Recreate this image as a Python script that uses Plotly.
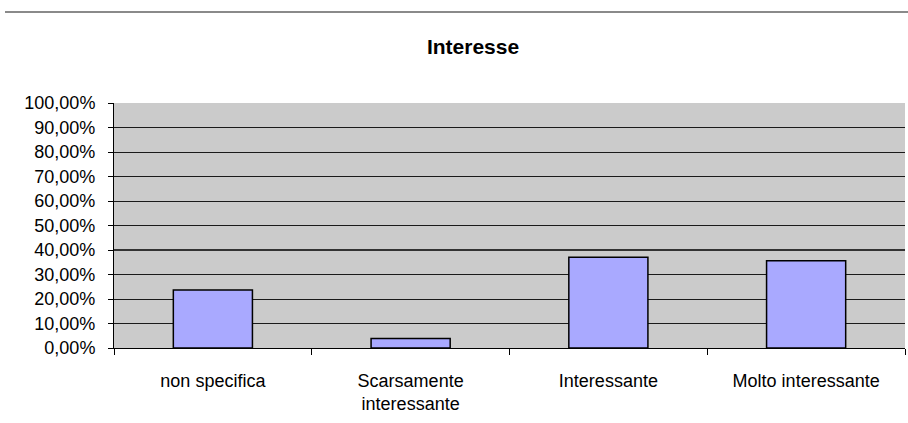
import plotly.graph_objects as go

categories = ["non specifica", "Scarsamente<br>interessante", "Interessante", "Molto interessante"]
values = [0.237, 0.039, 0.370, 0.356]
y_ticks = [i / 10 for i in range(11)]

fig = go.Figure()
fig.add_trace(go.Bar(
    x=categories, y=values,
    marker=dict(color="#a9a9ff", line=dict(color="#000000", width=1.5)),
    width=0.4,
))

fig.update_layout(
    width=908, height=423,
    margin=dict(l=114, r=3, t=103, b=75),
    paper_bgcolor="white",
    plot_bgcolor="#cbcbcb",
    separators=",.",
    showlegend=False,
    font=dict(family="Liberation Sans, Arial", size=18, color="#000000"),
    title=dict(text="<b>Interesse</b>", x=473 / 908, xanchor="center", y=1 - 47 / 423, yanchor="middle",
               font=dict(size=21, family="Liberation Sans, Arial", color="#000")),
)
fig.update_yaxes(
    range=[0, 1], tickvals=y_ticks, tickformat=".2%",
    showgrid=True, gridcolor="#1a1a1a", gridwidth=1,
    showline=True, linecolor="#000", linewidth=1,
    ticks="outside", ticklen=5, tickcolor="#000",
    ticklabelstandoff=9, zeroline=False,
)
fig.update_xaxes(
    tickson="boundaries", ticks="outside", ticklen=6, tickcolor="#000",
    showline=True, linecolor="#000", linewidth=1, showgrid=False,
    ticklabelstandoff=16,
    range=[-0.5, 3.5],
)
# darker 40% gridline
fig.add_shape(type="line", xref="paper", yref="y", x0=0, x1=1, y0=0.4, y1=0.4,
              line=dict(color="#333333", width=2))
# top separator line
fig.add_shape(type="line", xref="paper", yref="paper", x0=(5 - 114) / 791, x1=1.01,
              y0=1 + (103 - 12) / 245, y1=1 + (103 - 12) / 245,
              line=dict(color="#8a8a8a", width=2))

fig.write_html("out.html")
